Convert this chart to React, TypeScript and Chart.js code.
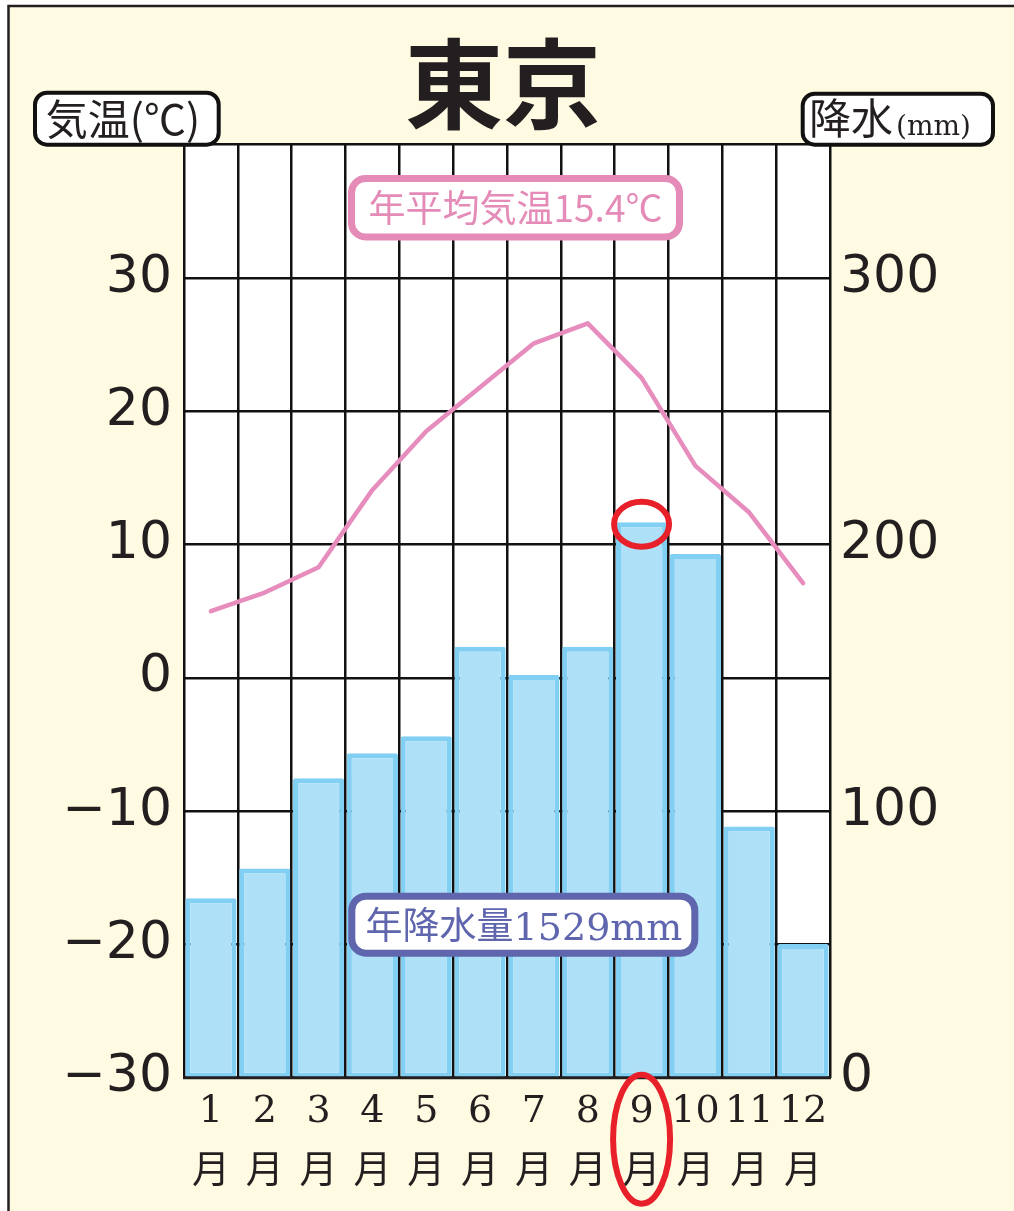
import React, { useEffect, useRef } from "react";
import { Chart, registerables } from "chart.js";

Chart.register(...registerables);

// ---- data ----
const monthNumbers = ["1", "2", "3", "4", "5", "6", "7", "8", "9", "10", "11", "12"];
const monthSuffix = "月";
const precipitation = [67.3, 78.5, 112.3, 121.7, 128.1, 161.7, 151.1, 161.7, 208.4, 196.5, 94.2, 50.2];
const temperature = [5.0, 6.4, 8.3, 14.1, 18.5, 21.8, 25.1, 26.6, 22.5, 15.9, 12.4, 7.1];
const tempTickLabels = [-30, -20, -10, 0, 10, 20, 30];
const precipTickLabels = [0, 100, 200, 300];
const highlightIndex = 8;
const titleText = "東京";
const tempAxisTitle = "気温(℃)";
const precipAxisTitleMain = "降水";
const precipAxisTitleUnit = "(mm)";
const annualTempText = "年平均気温15.4℃";
const annualPrecipMain = "年降水量";
const annualPrecipValue = "1529mm";

const SANS = "'Noto Sans CJK JP', 'Noto Sans', sans-serif";
const DIGITS = "'DejaVu Sans', sans-serif";
const SERIF = "'DejaVu Serif', 'Noto Sans CJK JP', serif";
const INK = "#231f20";
const PINK = "#e48bb8";
const NAVY = "#5f66ae";
const RED = "#e8202a";

function rr(ctx: CanvasRenderingContext2D, x: number, y: number, w: number, h: number, r: number) {
  ctx.beginPath();
  ctx.moveTo(x + r, y);
  ctx.arcTo(x + w, y, x + w, y + h, r);
  ctx.arcTo(x + w, y + h, x, y + h, r);
  ctx.arcTo(x, y + h, x, y, r);
  ctx.arcTo(x, y, x + w, y, r);
  ctx.closePath();
}

const decorations = {
  id: "decorations",
  beforeDraw(chart: any) {
    const { ctx, width, height, chartArea: a } = chart;
    ctx.save();
    ctx.fillStyle = "#ffffff";
    ctx.fillRect(0, 0, width, height);
    ctx.fillStyle = "#fffbe2";
    ctx.fillRect(8.5, 6, width, height);
    ctx.strokeStyle = INK;
    ctx.lineWidth = 2.5;
    ctx.beginPath();
    ctx.moveTo(8.5, height);
    ctx.lineTo(8.5, 6);
    ctx.lineTo(width, 6);
    ctx.stroke();
    ctx.fillStyle = "#ffffff";
    ctx.fillRect(a.left, a.top, a.right - a.left, a.bottom - a.top);
    ctx.restore();
  },
  afterDatasetsDraw(chart: any) {
    const { ctx, chartArea: a } = chart;
    ctx.save();
    ctx.strokeStyle = INK;
    ctx.lineWidth = 3;
    ctx.beginPath();
    ctx.moveTo(a.left - 1, a.bottom);
    ctx.lineTo(a.right + 1, a.bottom);
    ctx.stroke();
    ctx.restore();
  },
  afterDraw(chart: any) {
    const { ctx, chartArea: a } = chart;
    const xs = chart.scales.x;
    const y1 = chart.scales.y1;
    ctx.save();

    // title
    ctx.fillStyle = INK;
    ctx.font = `700 98px ${SANS}`;
    ctx.textAlign = "center";
    ctx.textBaseline = "alphabetic";
    ctx.fillText(titleText, 503, 121);

    // left axis title box
    rr(ctx, 35, 92.7, 183.7, 52, 12);
    ctx.fillStyle = "#ffffff";
    ctx.fill();
    ctx.strokeStyle = "#111111";
    ctx.lineWidth = 4;
    ctx.stroke();
    ctx.fillStyle = INK;
    ctx.font = `400 42px ${SANS}`;
    ctx.textAlign = "center";
    ctx.fillText(tempAxisTitle, 123, 135);

    // right axis title box
    rr(ctx, 802.7, 93.7, 190.3, 51, 12);
    ctx.fillStyle = "#ffffff";
    ctx.fill();
    ctx.strokeStyle = "#111111";
    ctx.lineWidth = 4;
    ctx.stroke();
    ctx.fillStyle = INK;
    ctx.textAlign = "left";
    ctx.font = `400 42px ${SANS}`;
    ctx.fillText(precipAxisTitleMain, 809, 134);
    const w1 = ctx.measureText(precipAxisTitleMain).width;
    ctx.font = `400 28px ${SERIF}`;
    ctx.fillText(precipAxisTitleUnit, 809 + w1 + 3, 135);

    // annual temperature box
    rr(ctx, 351.5, 178.5, 328, 58.5, 14);
    ctx.fillStyle = "#ffffff";
    ctx.fill();
    ctx.strokeStyle = PINK;
    ctx.lineWidth = 7;
    ctx.stroke();
    ctx.fillStyle = PINK;
    ctx.font = `400 37px ${SANS}`;
    ctx.textAlign = "center";
    ctx.fillText(annualTempText, 515.5, 222);

    // annual precipitation box
    rr(ctx, 351.8, 896.2, 343, 57, 14);
    ctx.fillStyle = "#ffffff";
    ctx.fill();
    ctx.strokeStyle = NAVY;
    ctx.lineWidth = 7;
    ctx.stroke();
    ctx.fillStyle = NAVY;
    ctx.textAlign = "left";
    ctx.font = `400 37px ${SANS}`;
    const pw1 = ctx.measureText(annualPrecipMain).width;
    ctx.font = `400 38px ${SERIF}`;
    const pw2 = ctx.measureText(annualPrecipValue).width;
    const startX = 524 - (pw1 + pw2) / 2;
    ctx.font = `400 37px ${SANS}`;
    ctx.fillText(annualPrecipMain, startX, 939);
    ctx.font = `400 38px ${SERIF}`;
    ctx.fillText(annualPrecipValue, startX + pw1, 940);

    // highlight circles
    const cx = xs.getPixelForValue(highlightIndex);
    const cy = y1.getPixelForValue(precipitation[highlightIndex]) + 2;
    ctx.strokeStyle = RED;
    ctx.lineWidth = 6;
    ctx.beginPath();
    ctx.ellipse(cx, cy, 27.5, 22.5, 0, 0, Math.PI * 2);
    ctx.stroke();
    ctx.beginPath();
    ctx.ellipse(cx, a.bottom + 61.5, 28.5, 64.5, 0, 0, Math.PI * 2);
    ctx.stroke();

    ctx.restore();
  },
};

export default function App() {
  const ref = useRef<HTMLCanvasElement | null>(null);

  useEffect(() => {
    if (!ref.current) return;
    const labels = monthNumbers.map((m) => [m, monthSuffix]);
    const chart = new Chart(ref.current, {
      type: "bar",
      data: {
        labels,
        datasets: [
          {
            type: "line",
            label: "気温",
            data: temperature,
            yAxisID: "y",
            borderColor: "#e68dbd",
            borderWidth: 4.5,
            pointRadius: 0,
            tension: 0,
            fill: false,
            borderCapStyle: "round",
            borderJoinStyle: "round",
            order: 0,
          } as any,
          {
            type: "bar",
            label: "降水量",
            data: precipitation,
            yAxisID: "y1",
            backgroundColor: "#aee0f7",
            borderColor: "#82cff4",
            borderWidth: 5,
            borderSkipped: false,
            borderRadius: 2,
            barPercentage: 0.95,
            categoryPercentage: 1.0,
            order: 1,
          } as any,
        ],
      },
      options: {
        animation: false,
        responsive: true,
        maintainAspectRatio: false,
        layout: { padding: { top: 144.7, left: 0, right: 0, bottom: 0 } },
        plugins: {
          legend: { display: false },
          tooltip: { enabled: false },
        },
        scales: {
          x: {
            type: "category",
            offset: true,
            grid: { offset: true, color: "#111111", lineWidth: 2.5, drawTicks: false },
            border: { display: false },
            ticks: {
              color: INK,
              font: { family: SERIF, size: 38, lineHeight: 1.58 },
              padding: 4,
              maxRotation: 0,
              autoSkip: false,
            },
            afterFit: (s: any) => {
              s.height = 1211 - 1077.7;
            },
          },
          y: {
            type: "linear",
            position: "left",
            min: -30,
            max: 40,
            ticks: {
              stepSize: 10,
              color: INK,
              font: { family: DIGITS, size: 52 },
              padding: 12,
              callback: (v: any) =>
                tempTickLabels.includes(Number(v)) ? (Number(v) < 0 ? "−" + Math.abs(Number(v)) : String(v)) : "",
            },
            grid: { color: "#111111", lineWidth: 2.5, drawTicks: false },
            border: { display: false },
            afterFit: (s: any) => {
              s.width = 184;
            },
          },
          y1: {
            type: "linear",
            position: "right",
            min: 0,
            max: 350,
            ticks: {
              stepSize: 100,
              color: INK,
              font: { family: DIGITS, size: 52 },
              padding: 10,
              callback: (v: any) => (precipTickLabels.includes(Number(v)) ? String(v) : ""),
            },
            grid: { display: false, drawTicks: false },
            border: { display: false },
            afterFit: (s: any) => {
              s.width = 184;
            },
          },
        },
      } as any,
      plugins: [decorations],
    });
    return () => chart.destroy();
  }, []);

  return (
    <div style={{ position: "fixed", left: 0, top: 0, width: 1014, height: 1211 }}>
      <canvas ref={ref} />
    </div>
  );
}
